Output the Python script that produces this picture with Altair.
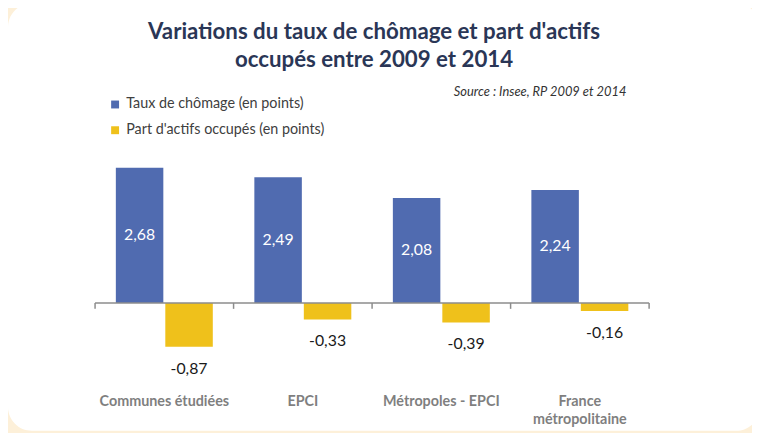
import altair as alt
import pandas as pd

categories = ["Communes étudiées", "EPCI", "Métropoles - EPCI", "France métropolitaine"]
series = ["Taux de chômage (en points)", "Part d'actifs occupés (en points)"]
chomage = [2.68, 2.49, 2.08, 2.24]
actifs = [-0.87, -0.33, -0.39, -0.16]
colors = ["#506BB0", "#EFC11B"]
title_lines = ["Variations du taux de chômage et part d'actifs", "occupés entre 2009 et 2014"]
source_text = "Source : Insee, RP 2009 et 2014"

rows = []
for c, v in zip(categories, chomage):
    rows.append({"cat": c, "serie": series[0], "value": v})
for c, v in zip(categories, actifs):
    rows.append({"cat": c, "serie": series[1], "value": v})
df = pd.DataFrame(rows)
cats_df = pd.DataFrame({"cat": categories})
FONT = "Lato"

x_enc = alt.X("cat:N", sort=categories, scale=alt.Scale(paddingInner=0, paddingOuter=0),
              axis=alt.Axis(title=None, labelAngle=0, ticks=False, domain=False, zindex=2,
                            labelFont=FONT, labelFontSize=14.5, labelFontWeight="bold",
                            labelColor="#7F7F7F", labelPadding=31, labelLineHeight=19,
                            labelLimit=300,
                            labelExpr="datum.label == 'France métropolitaine' ? ['France', 'métropolitaine'] : datum.label"))
xo_enc = alt.XOffset("serie:N", sort=series,
                     scale=alt.Scale(paddingInner=0.04, paddingOuter=0.42))
y_scale = alt.Scale(domain=[-1.2, 2.8], nice=False)

bg = alt.Chart(pd.DataFrame({"a": [0]})).mark_rect(color="white", cornerRadius=24).encode(
    x=alt.value(-88), x2=alt.value(672), y=alt.value(-160), y2=alt.value(272))

bars = alt.Chart(df).mark_bar().encode(
    x=x_enc, xOffset=xo_enc,
    y=alt.Y("value:Q", scale=y_scale, axis=None),
    color=alt.Color("serie:N", sort=series, scale=alt.Scale(domain=series, range=colors),
                    legend=alt.Legend(orient="none", legendX=13, legendY=-65, title=None,
                                      symbolType="square", symbolSize=64, symbolStrokeWidth=0,
                                      labelFont=FONT, labelFontSize=14.5, labelColor="#404040",
                                      labelLimit=400, rowPadding=11, padding=0,
                                      direction="vertical", zindex=3)))

base_lbl = alt.Chart(df).transform_calculate(
    lbl="replace(replace(format(datum.value, '.2f'), '.', ','), '\u2212', '-')",
    mid="datum.value / 2")

pos_lbl = base_lbl.transform_filter("datum.value > 0").mark_text(
    color="white", font=FONT, fontSize=16).encode(
    x=alt.X("cat:N", sort=categories), xOffset=xo_enc,
    y=alt.Y("mid:Q", scale=y_scale), text="lbl:N")

neg_lbl = base_lbl.transform_filter("datum.value < 0").mark_text(
    color="#1A1A1A", font=FONT, fontSize=16, dy=22).encode(
    x=alt.X("cat:N", sort=categories), xOffset=xo_enc,
    y=alt.Y("value:Q", scale=y_scale), text="lbl:N")

zero = alt.Chart(pd.DataFrame({"a": [0]})).mark_rule(color="#8C8C8C", strokeWidth=1.5).encode(
    y=alt.datum(0, scale=y_scale))

ticks = alt.Chart(cats_df).mark_rule(color="#8C8C8C", strokeWidth=1.5, y2Offset=6).encode(
    x=alt.X("cat:N", sort=categories, bandPosition=0),
    y=alt.datum(0, scale=y_scale), y2=alt.datum(0))
end_tick = alt.Chart(cats_df.tail(1)).mark_rule(color="#8C8C8C", strokeWidth=1.5, y2Offset=6).encode(
    x=alt.X("cat:N", sort=categories, bandPosition=1),
    y=alt.datum(0, scale=y_scale), y2=alt.datum(0))

source = alt.Chart(pd.DataFrame({"t": [source_text]})).mark_text(
    align="right", baseline="middle", font=FONT, fontSize=13, fontStyle="italic", color="#333333").encode(
    x=alt.value(537), y=alt.value(-70), text="t:N")

title1 = alt.Chart(pd.DataFrame({"t": [title_lines[0]]})).mark_text(
    align="center", baseline="middle", font=FONT, fontSize=22.5, fontWeight="bold", color="#2A3656").encode(
    x=alt.value(282), y=alt.value(-131), text="t:N")
title2 = alt.Chart(pd.DataFrame({"t": [title_lines[1]]})).mark_text(
    align="center", baseline="middle", font=FONT, fontSize=22.5, fontWeight="bold", color="#2A3656").encode(
    x=alt.value(282), y=alt.value(-103), text="t:N")

chart = alt.layer(bg, bars, pos_lbl, neg_lbl, zero, ticks, end_tick, source, title1, title2).properties(
    width=560, height=204,
    autosize=alt.AutoSizeParams(type="none"),
    padding={"left": 88, "top": 153, "right": 104, "bottom": 68},
    background="#FDF0D9",
).configure_view(stroke=None)

chart.save("out.html", embed_options={"renderer": "svg", "actions": False})
